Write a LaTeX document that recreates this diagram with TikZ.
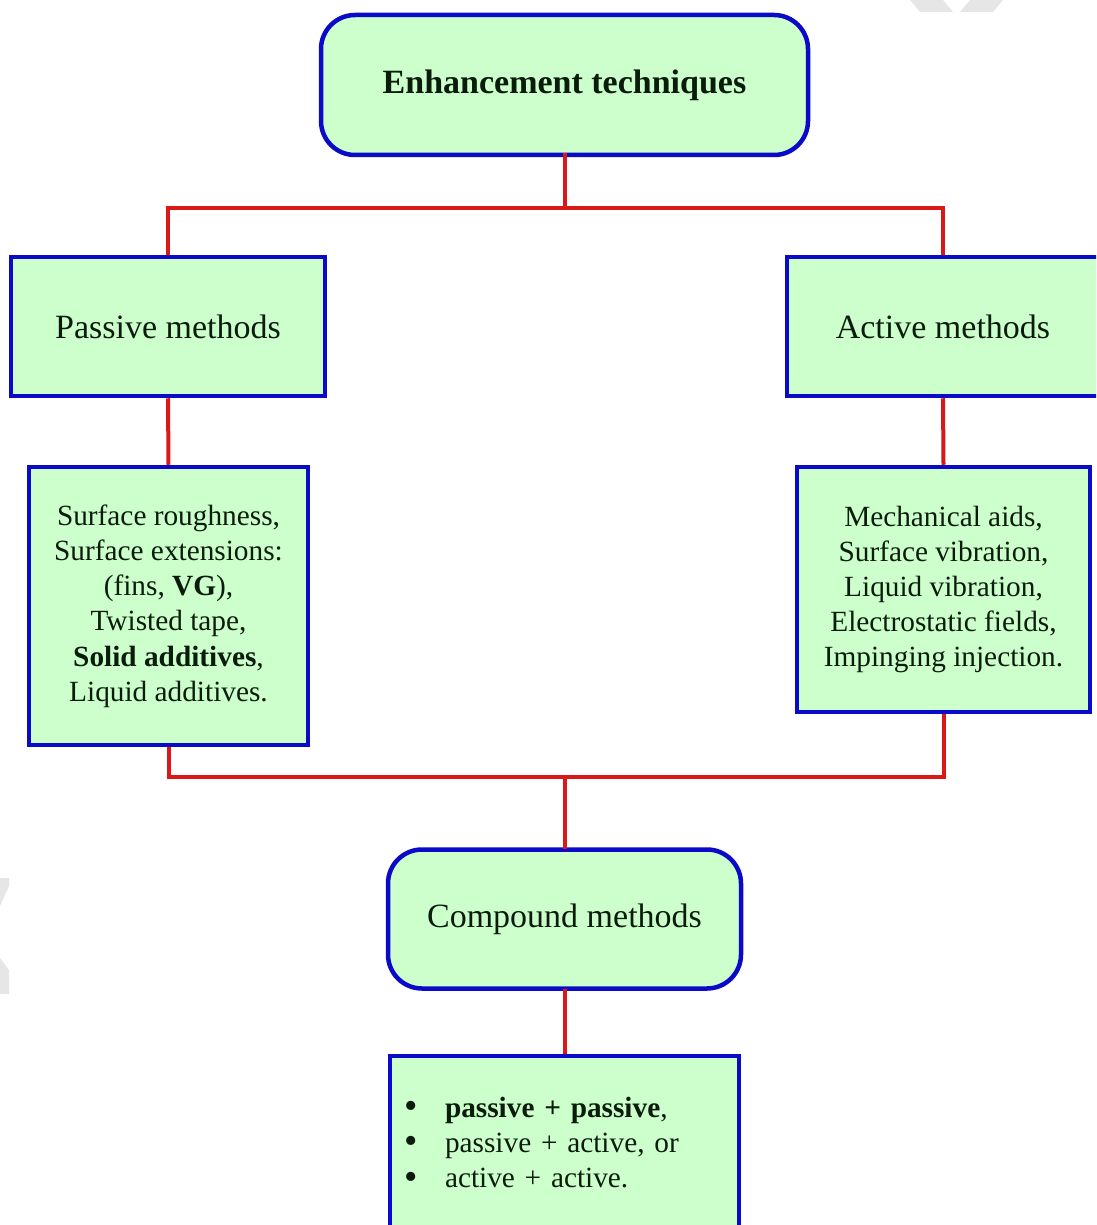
\documentclass[tikz,border=0pt]{standalone}
\usepackage{fontspec}
\setmainfont{Liberation Serif}
\definecolor{bbox}{RGB}{10,10,200}
\definecolor{gfill}{RGB}{204,255,204}
\definecolor{lred}{RGB}{218,24,24}
\definecolor{txt}{RGB}{12,28,12}
\definecolor{wm}{RGB}{230,230,230}
\newcommand{\bul}{\makebox[43pt][l]{\hspace{2pt}\raisebox{-1.5pt}{\scalebox{1.3}{\textbullet}}}}
\begin{document}
\begin{tikzpicture}[x=1pt,y=-1pt,
  box/.style={draw=bbox,line width=4.5pt,fill=gfill,text=txt,inner sep=0pt,align=center},
  rbox/.style={box,rounded corners=34pt},
  big/.style={font=\fontsize{34}{40}\selectfont},
  small/.style={font=\fontsize{29.3}{35.2}\selectfont},
  conn/.style={draw=lred,line width=4pt}]
\useasboundingbox (0,0) rectangle (1096,1225);
\clip (0,0) rectangle (1096,1225);
\fill[wm] (910,0) -- (943,0) -- (953,12) -- (920,12) -- cycle;
\fill[wm] (970,0) -- (1003,0) -- (993,12) -- (960,12) -- cycle;
\fill[wm] (0,878) -- (9,878) -- (9,886) -- (0,906) -- cycle;
\fill[wm] (0,958) -- (9,970) -- (9,994) -- (0,994) -- cycle;

\node[rbox,big,minimum width=487pt,minimum height=140pt] (top) at (564.5,85) {\textbf{Enhancement techniques}};
\node[box,big,minimum width=314pt,minimum height=139pt] (pas) at (168,326.5) {Passive methods};
\node[box,big,minimum width=312pt,minimum height=139pt] (act) at (943,326.5) {Active methods};
\node[box,small,minimum width=279pt,minimum height=278pt] (pasl) at (168.5,606) {Surface roughness,\\Surface extensions:\\(fins, \textbf{VG}),\\Twisted tape,\\\textbf{Solid additives},\\Liquid additives.};
\node[box,small,minimum width=293pt,minimum height=245pt] (actl) at (943.5,589.5) {Mechanical aids,\\Surface vibration,\\Liquid vibration,\\Electrostatic fields,\\Impinging injection.};
\node[rbox,big,minimum width=353pt,minimum height=139pt] (comp) at (564.5,919) {Compound methods};
\node[box,small,minimum width=349pt,minimum height=174pt,text width=325pt,align=left] (compl) at (564.5,1143) {\bul\textbf{passive + passive},\\\bul passive + active, or\\\bul active + active.};

\coordinate (j1) at (564.5,208);
\coordinate (j2) at (564.5,777);
\draw[conn] (564.5,153) -- (j1);
\draw[conn] (j1) -| (pas.north);
\draw[conn] (j1) -| (act.north);
\draw[conn] (pas.south) -- (pasl.north);
\draw[conn] (act.south) -- (actl.north);
\draw[conn] (pasl.south) |- (j2);
\draw[conn] (actl.south) |- (j2);
\draw[conn] (j2) -- (564.5,848.5);
\draw[conn] (564.5,988.5) -- (compl.north);
\end{tikzpicture}
\end{document}
